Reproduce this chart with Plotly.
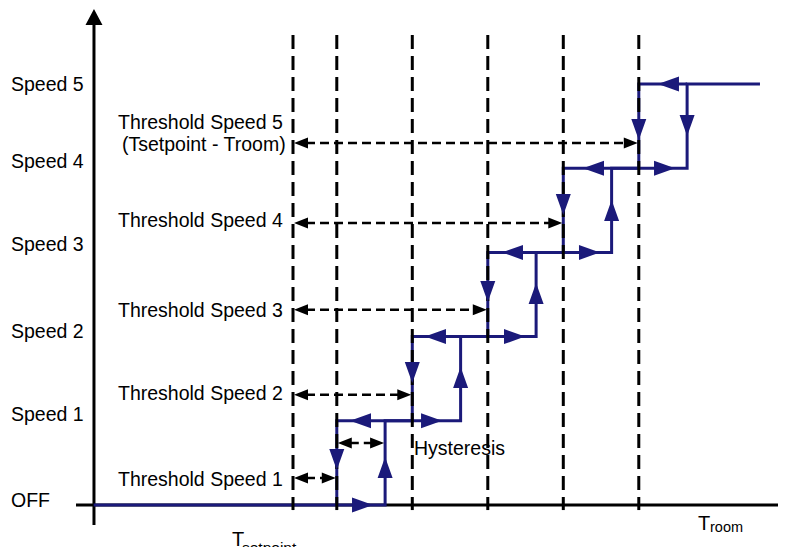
import plotly.graph_objects as go

# ---------------- data ----------------
speed_labels = ["OFF", "Speed 1", "Speed 2", "Speed 3", "Speed 4", "Speed 5"]
speed_levels = [0, 1, 2, 3, 4, 5]

setpoint_x = 0.0
down_thresholds = [0.58, 1.58, 2.58, 3.58, 4.58]   # speed k+1 -> k
up_thresholds = [1.22, 2.22, 3.22, 4.22, 5.22]     # speed k -> k+1
path_start_x = -2.64
path_end_x = 6.185

threshold_labels = ["Threshold Speed 1", "Threshold Speed 2", "Threshold Speed 3",
                    "Threshold Speed 4", "Threshold Speed 5"]
threshold_note = "(Tsetpoint - Troom)"
threshold_arrow_levels = [0.32, 1.31, 2.32, 3.35, 4.30]
hysteresis_label = "Hysteresis"
hysteresis_level = 0.736

h_arrow_x = [1.06, 0.755, 1.974, 1.748, 3.073, 2.768, 4.066, 3.841, 5.06, 4.834]
h_arrow_level = [0, 1, 1, 2, 2, 3, 3, 4, 4, 5]
h_arrow_dir = ["right", "left", "right", "left", "right", "left", "right", "left", "right", "left"]
v_arrow_x = [0.58, 1.58, 2.58, 3.58, 4.58, 1.22, 2.22, 3.22, 4.22, 5.22]
v_arrow_level = [0.416, 1.449, 2.411, 3.444, 4.335, 0.570, 1.639, 2.637, 3.622, 4.382]
v_arrow_dir = ["down", "down", "down", "down", "down", "up", "up", "up", "up", "down"]

axis_x_start = -2.874
axis_x_end = 6.636
axis_y_bottom = -0.2375
axis_y_top = 5.89
axis_y_xpos = -2.636
grid_top = 5.582
grid_bottom = -0.06

# ---------------- layout / style ----------------
# the page has an 8px body margin, so the figure is 8px smaller than the window
W, H = 778, 539
X_RANGE = [-3.7748, 6.5298]
Y_RANGE = [-0.4988, 5.9026]
SX = W / (X_RANGE[1] - X_RANGE[0])
SY = H / (Y_RANGE[1] - Y_RANGE[0])
BLUE = "#1b1a7a"
BLACK = "#000000"
FONT = "Liberation Sans, Arial, sans-serif"
FS = 19.5


def tri(xt, yt, d, L, Wd):
    lx, ly, wx, wy = L / SX, L / SY, Wd / SX, Wd / SY
    if d == "right":
        p = [(xt, yt), (xt - lx, yt + wy), (xt - lx, yt - wy)]
    elif d == "left":
        p = [(xt, yt), (xt + lx, yt + wy), (xt + lx, yt - wy)]
    elif d == "up":
        p = [(xt, yt), (xt - wx, yt - ly), (xt + wx, yt - ly)]
    else:
        p = [(xt, yt), (xt - wx, yt + ly), (xt + wx, yt + ly)]
    p.append(p[0])
    return [q[0] for q in p] + [None], [q[1] for q in p] + [None]


def tri_trace(tris, color):
    xs, ys = [], []
    for t in tris:
        a, b = tri(*t)
        xs += a
        ys += b
    return go.Scatter(x=xs, y=ys, mode="lines", fill="toself", fillcolor=color,
                      line=dict(width=0, color=color), hoverinfo="skip", showlegend=False)


fig = go.Figure()

# axes
fig.add_trace(go.Scatter(x=[axis_x_start, axis_x_end - 14 / SX, None, axis_y_xpos, axis_y_xpos],
                         y=[0, 0, None, axis_y_bottom, axis_y_top - 14 / SY],
                         mode="lines", line=dict(color=BLACK, width=3),
                         hoverinfo="skip", showlegend=False))
fig.add_trace(tri_trace([(axis_x_end, 0, "right", 16, 7.5),
                         (axis_y_xpos, axis_y_top, "up", 16, 8.5)], BLACK))

# blue hysteresis path
rise_x = [path_start_x]
rise_y = [0]
for k, u in enumerate(up_thresholds):
    rise_x += [u, u]
    rise_y += [speed_levels[k], speed_levels[k + 1]]
rise_x.append(path_end_x)
rise_y.append(speed_levels[-1])
fall_x, fall_y = [up_thresholds[-1]], [speed_levels[-1]]
for k in range(len(down_thresholds) - 1, -1, -1):
    d = down_thresholds[k]
    fall_x += [d, d]
    fall_y += [speed_levels[k + 1], speed_levels[k]]
fig.add_trace(go.Scatter(x=rise_x + [None] + fall_x, y=rise_y + [None] + fall_y,
                         mode="lines", line=dict(color=BLUE, width=3),
                         hoverinfo="skip", showlegend=False))

# dashed vertical lines
vx, vy = [], []
for x in [setpoint_x] + down_thresholds:
    vx += [x, x, None]
    vy += [grid_top, grid_bottom, None]
fig.add_trace(go.Scatter(x=vx, y=vy, mode="lines",
                         line=dict(color=BLACK, width=3, dash="14px,7px"),
                         hoverinfo="skip", showlegend=False))

# blue arrowheads
blue_tris = [(x, y, d, 21, 7.5) for x, y, d in zip(h_arrow_x, h_arrow_level, h_arrow_dir)]
blue_tris += [(x, y, d, 21, 7.5) for x, y, d in zip(v_arrow_x, v_arrow_level, v_arrow_dir)]
fig.add_trace(tri_trace(blue_tris, BLUE))

# dashed double arrows
spans = [(setpoint_x, d, lv) for d, lv in zip(down_thresholds, threshold_arrow_levels)]
spans.append((down_thresholds[0], up_thresholds[0], hysteresis_level))
dx, dy, heads = [], [], []
for a, b, lv in spans:
    dx += [a + 13 / SX, b - 13 / SX, None]
    dy += [lv, lv, None]
    heads += [(a + 1 / SX, lv, "left", 14, 5.5), (b - 1 / SX, lv, "right", 14, 5.5)]
fig.add_trace(go.Scatter(x=dx, y=dy, mode="lines",
                         line=dict(color=BLACK, width=2.5, dash="9px,5px"),
                         hoverinfo="skip", showlegend=False))
fig.add_trace(tri_trace(heads, BLACK))

# ---------------- text ----------------
ann = []
speed_yshift = [5, 7, 6, 8, 7, 0]
for lab, lv, ys in zip(speed_labels, speed_levels, speed_yshift):
    ann.append(dict(x=X_RANGE[0], y=lv, text=lab, xanchor="left", yanchor="middle",
                    xshift=2, yshift=ys, showarrow=False, borderpad=0,
                    font=dict(family=FONT, size=FS, color=BLACK)))
thr_yshift = [-1, 2, 0, 3, 21]
for lab, lv, ys in zip(threshold_labels, threshold_arrow_levels, thr_yshift):
    ann.append(dict(x=setpoint_x, y=lv, text=lab, xanchor="right", yanchor="middle",
                    xshift=-9, yshift=ys, showarrow=False, borderpad=0,
                    font=dict(family=FONT, size=FS, color=BLACK)))
ann.append(dict(x=setpoint_x, y=threshold_arrow_levels[-1], text=threshold_note,
                xanchor="right", yanchor="middle", xshift=-6, yshift=-1,
                showarrow=False, borderpad=0, font=dict(family=FONT, size=FS, color=BLACK)))
ann.append(dict(x=down_thresholds[0], y=hysteresis_level, text=hysteresis_label,
                xanchor="left", yanchor="middle", xshift=76, yshift=-5,
                showarrow=False, borderpad=0, font=dict(family=FONT, size=FS, color=BLACK)))
# axis titles (T with subscript)
ann.append(dict(x=setpoint_x, y=0, text="T", xanchor="left", yanchor="middle",
                xshift=-62, yshift=-34, showarrow=False, borderpad=0,
                font=dict(family=FONT, size=20, color=BLACK)))
ann.append(dict(x=setpoint_x, y=0, text="setpoint", xanchor="left", yanchor="middle",
                xshift=-52, yshift=-42, showarrow=False, borderpad=0,
                font=dict(family=FONT, size=15.5, color=BLACK)))
ann.append(dict(x=path_end_x, y=0, text="T", xanchor="left", yanchor="middle",
                xshift=-63, yshift=-17.5, showarrow=False, borderpad=0,
                font=dict(family=FONT, size=20, color=BLACK)))
ann.append(dict(x=path_end_x, y=0, text="room", xanchor="left", yanchor="middle",
                xshift=-51, yshift=-22, showarrow=False, borderpad=0,
                font=dict(family=FONT, size=14.5, color=BLACK)))

fig.update_layout(
    width=W, height=H, autosize=False,
    margin=dict(l=0, r=0, t=0, b=0, pad=0),
    paper_bgcolor="white", plot_bgcolor="white",
    xaxis=dict(range=X_RANGE, visible=False, fixedrange=True),
    yaxis=dict(range=Y_RANGE, visible=False, fixedrange=True),
    annotations=ann,
    showlegend=False,
)

fig.write_html("out.html")
